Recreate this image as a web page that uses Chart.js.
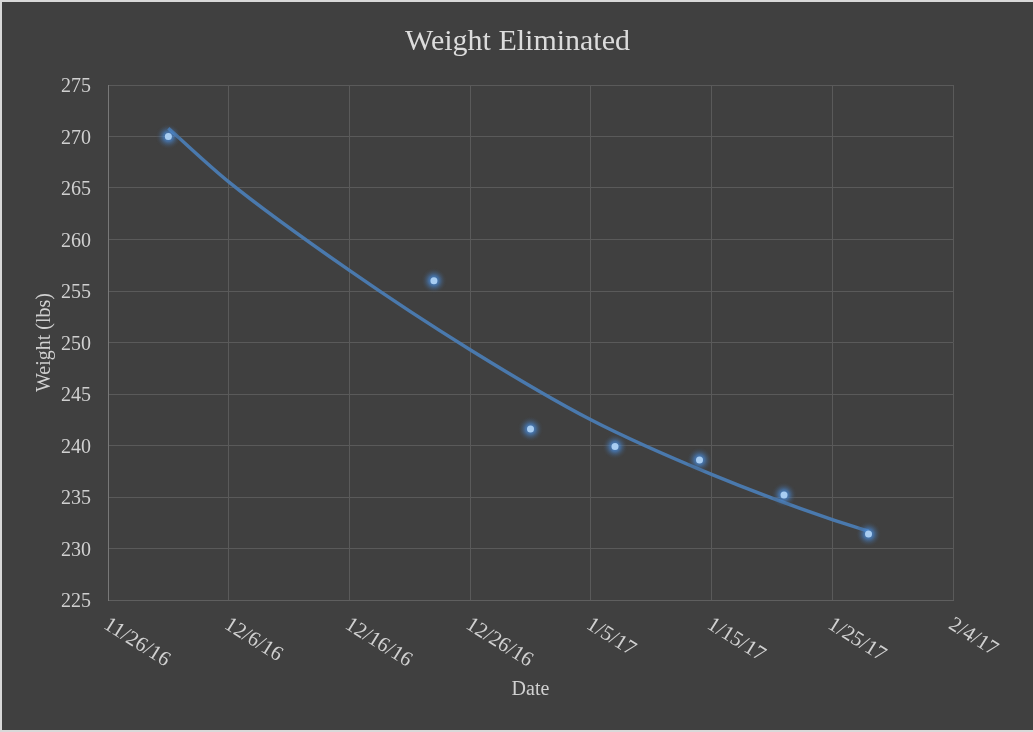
<!DOCTYPE html>
<html>
<head>
<meta charset="utf-8">
<title>Weight Eliminated</title>
<script src="https://cdn.jsdelivr.net/npm/chart.js@4.4.1/dist/chart.umd.min.js"></script>
<style>
  html, body { margin: 0; padding: 0; background: #d9d9d9; }
  #wrap { position: absolute; left: 2px; top: 2px; width: 1031px; height: 728px; background: #404040; }
</style>
</head>
<body>
<div id="wrap"><canvas id="chart"></canvas></div>
<script>
// Weigh-ins
const weighDates = ['2016-12-01', '2016-12-23', '2016-12-31', '2017-01-07', '2017-01-14', '2017-01-21', '2017-01-28'];
const weights = [270, 256, 241.6, 239.9, 238.6, 235.2, 231.4];

// Trendline as it appears on the chart
const trendDates = ['2016-12-01', '2016-12-06', '2016-12-16', '2016-12-26', '2017-01-05', '2017-01-15', '2017-01-25', '2017-01-28'];
const trendWeights = [270.8, 265.6, 257.0, 249.3, 242.5, 237.2, 232.8, 231.7];

// Axes
const xStart = '2016-11-26';
const xEnd = '2017-02-04';
const xTickLabels = ['11/26/16', '12/6/16', '12/16/16', '12/26/16', '1/5/17', '1/15/17', '1/25/17', '2/4/17'];
const yMin = 225;
const yMax = 275;
const yStep = 5;

const DAY = 86400000;
const toMs = (d) => Date.parse(d + 'T00:00:00Z');

const serif = '"Liberation Serif", "DejaVu Serif", serif';
const gridColor = '#5a5a5a';
const textColor = '#d0d0d0';

// soft blue glow under each marker
const glowPlugin = {
  id: 'glow',
  beforeDatasetDraw(chart, args) {
    if (args.index !== 0) return;
    const ctx = chart.ctx;
    ctx.save();
    chart.getDatasetMeta(0).data.forEach((pt) => {
      const g = ctx.createRadialGradient(pt.x, pt.y, 0, pt.x, pt.y, 13);
      g.addColorStop(0, 'rgba(80, 145, 220, 1)');
      g.addColorStop(0.4, 'rgba(72, 135, 210, 0.6)');
      g.addColorStop(1, 'rgba(64, 64, 64, 0)');
      ctx.fillStyle = g;
      ctx.beginPath();
      ctx.arc(pt.x, pt.y, 13, 0, Math.PI * 2);
      ctx.fill();
    });
    ctx.restore();
  },
};

// date labels slanting down to the right, as in the original
const slantLabels = {
  id: 'slantLabels',
  afterDraw(chart) {
    const scale = chart.scales.x;
    const ctx = chart.ctx;
    ctx.save();
    ctx.font = '21px ' + serif;
    ctx.fillStyle = textColor;
    ctx.textAlign = 'left';
    ctx.textBaseline = 'top';
    scale.ticks.forEach((tick, i) => {
      const px = scale.getPixelForTick(i);
      ctx.save();
      ctx.translate(px + 3, scale.top + 14);
      ctx.rotate(32 * Math.PI / 180);
      ctx.fillText(tick.label, 0, 0);
      ctx.restore();
    });
    ctx.restore();
  },
};

const ctx = document.getElementById('chart').getContext('2d');
new Chart(ctx, {
  type: 'scatter',
  data: {
    datasets: [
      {
        label: 'Weight',
        data: weighDates.map((d, i) => ({ x: toMs(d), y: weights[i] })),
        backgroundColor: '#a8cdf2',
        borderWidth: 0,
        pointRadius: 3.5,
        order: 0,
      },
      {
        label: 'Trend',
        data: trendDates.map((d, i) => ({ x: toMs(d), y: trendWeights[i] })),
        showLine: true,
        borderColor: '#4a79ad',
        borderWidth: 3.4,
        pointRadius: 0,
        cubicInterpolationMode: 'monotone',
        order: 1,
      },
    ],
  },
  options: {
    responsive: true,
    maintainAspectRatio: false,
    animation: false,
    layout: { padding: 0 },
    plugins: {
      legend: { display: false },
      tooltip: { enabled: false },
      title: {
        display: true,
        text: 'Weight Eliminated',
        color: '#dcdcdc',
        font: { family: serif, size: 30, weight: 'normal', lineHeight: 1.2 },
        padding: { top: 22, bottom: 25 },
      },
    },
    scales: {
      x: {
        type: 'linear',
        min: toMs(xStart),
        max: toMs(xEnd),
        afterFit(scale) { scale.height = 130; },
        ticks: {
          stepSize: 10 * DAY,
          autoSkip: false,
          minRotation: 0,
          maxRotation: 0,
          color: 'rgba(0,0,0,0)',
          font: { family: serif, size: 21 },
          callback: (v, i) => xTickLabels[i],
        },
        grid: { color: gridColor, lineWidth: 1, drawTicks: false },
        border: { color: '#5f5f5f', width: 1 },
        title: {
          display: true,
          text: 'Date',
          color: textColor,
          font: { family: serif, size: 20, lineHeight: 1.2 },
          padding: { top: 0, bottom: 28 },
        },
      },
      y: {
        min: yMin,
        max: yMax,
        afterFit(scale) { scale.width = 106; },
        ticks: {
          stepSize: yStep,
          padding: 17,
          labelOffset: 2,
          color: textColor,
          font: { family: serif, size: 20 },
        },
        grid: { color: gridColor, lineWidth: 1, drawTicks: false },
        border: { color: '#787878', width: 1 },
        title: {
          display: true,
          text: 'Weight (lbs)',
          color: textColor,
          font: { family: serif, size: 20, lineHeight: 1.2 },
          padding: { top: 31, bottom: 0 },
        },
      },
      // empty strip on the right so the title stays centred on the whole chart
      spacer: {
        type: 'linear',
        position: 'right',
        afterFit(scale) { scale.width = 80; },
        ticks: { display: false },
        grid: { display: false, drawOnChartArea: false },
        border: { display: false },
      },
    },
  },
  plugins: [glowPlugin, slantLabels],
});
</script>
</body>
</html>
